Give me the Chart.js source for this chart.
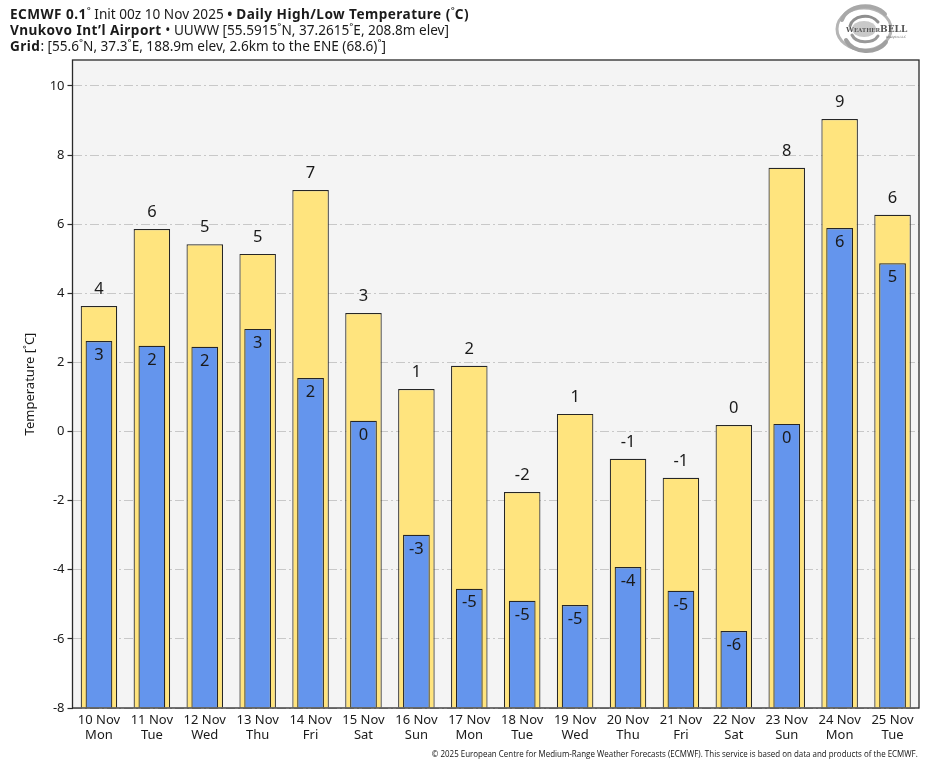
<!DOCTYPE html>
<html>
<head>
<meta charset="utf-8">
<script src="https://cdn.jsdelivr.net/npm/chart.js@4.4.1/dist/chart.umd.min.js"></script>
<style>
  html, body { margin: 0; padding: 0; background: #fff; }
  body { width: 935px; height: 768px; position: relative; overflow: hidden; font-family: "Noto Sans", "Open Sans", sans-serif; color: #1a1a1a; }
  #chart { position: absolute; left: 0; top: 0; }
  #hdr { position: absolute; left: 10px; top: 6px; font-size: 13.6px; line-height: 16px; white-space: nowrap; }
  #hdr b { font-weight: 700; letter-spacing: 0.45px; }
  #foot { position: absolute; top: 748px; right: 17px; font-family: "Open Sans", "Noto Sans", sans-serif; font-size: 9px; line-height: 12px; white-space: nowrap; transform-origin: right center; color: #111; }
  #logo { position: absolute; left: 830px; top: 2px; width: 100px; height: 56px; }
</style>
</head>
<body>
<canvas id="chart" width="935" height="768"></canvas>
<div id="hdr">
  <div><b>ECMWF 0.1</b>˚ Init 00z 10 Nov 2025 <b>•</b> <b>Daily High/Low Temperature (</b>˚<b>C)</b></div>
  <div><b>Vnukovo Int’l Airport</b> • UUWW [55.5915˚N, 37.2615˚E, 208.8m elev]</div>
  <div><b>Grid</b>: [55.6˚N, 37.3˚E, 188.9m elev, 2.6km to the ENE (68.6)˚]</div>
</div>
<svg id="logo" viewBox="0 0 100 56">
  <g fill="none" stroke="#9a9a9a" stroke-linecap="round">
    <ellipse cx="34" cy="27" rx="27" ry="21" stroke-width="3" stroke="#b5b5b5"/>
    <path d="M12 18 A24 18 0 0 1 55 12" stroke-width="4" stroke="#a8a8a8"/>
    <path d="M16 38 A22 17 0 0 0 56 40" stroke-width="4" stroke="#a0a0a0"/>
    <path d="M20 24 A15 11 0 0 1 48 20" stroke-width="3" stroke="#8f8f8f"/>
    <path d="M22 33 A14 10 0 0 0 48 34" stroke-width="3" stroke="#999"/>
  </g>
  <ellipse cx="34" cy="27" rx="12" ry="8" fill="#c9c9c9"/>
  <text x="16" y="30" font-family="DejaVu Serif, serif" font-size="7" font-weight="bold" fill="#555">W<tspan font-size="5.5">EATHER</tspan><tspan font-size="9">BELL</tspan></text>
  <text x="56" y="36" font-family="DejaVu Sans, sans-serif" font-size="3" fill="#666">Analytics LLC</text>
</svg>
<div id="foot">© 2025 European Centre for Medium-Range Weather Forecasts (ECMWF). This service is based on data and products of the ECMWF.</div>
<script>
// ---- data ----
const dates = ["10 Nov","11 Nov","12 Nov","13 Nov","14 Nov","15 Nov","16 Nov","17 Nov","18 Nov","19 Nov","20 Nov","21 Nov","22 Nov","23 Nov","24 Nov","25 Nov"];
const weekdays = ["Mon","Tue","Wed","Thu","Fri","Sat","Sun","Mon","Tue","Wed","Thu","Fri","Sat","Sun","Mon","Tue"];
const highTemps = [3.63, 5.86, 5.42, 5.14, 6.99, 3.43, 1.23, 1.90, -1.75, 0.51, -0.79, -1.34, 0.19, 7.63, 9.04, 6.27];
const lowTemps  = [2.62, 2.48, 2.45, 2.97, 1.55, 0.31, -2.99, -4.55, -4.90, -5.02, -3.92, -4.61, -5.77, 0.22, 5.89, 4.87];
const yMin = -8;
const yMax = 10.75;
const yStep = 2;

// fit footer width
(function(){
  const f = document.getElementById('foot');
  const w = f.getBoundingClientRect().width;
  f.style.transform = 'scaleX(' + (486 / w) + ')';
})();

const labels = dates.map((d, i) => [d, weekdays[i]]);

const bgPlugin = {
  id: 'bg',
  beforeDraw(chart) {
    const a = chart.chartArea, ctx = chart.ctx;
    ctx.save();
    ctx.fillStyle = '#f4f4f4';
    ctx.fillRect(a.left, a.top, a.right - a.left, a.bottom - a.top);
    ctx.restore();
  },
  afterDraw(chart) {
    const a = chart.chartArea, ctx = chart.ctx;
    ctx.save();
    ctx.strokeStyle = '#2a2a2a';
    ctx.lineWidth = 1.3;
    ctx.strokeRect(a.left, a.top, a.right - a.left, a.bottom - a.top);
    ctx.restore();
  }
};

const valueLabels = {
  id: 'valueLabels',
  afterDatasetsDraw(chart) {
    const ctx = chart.ctx;
    ctx.save();
    ctx.font = '16.5px "Noto Sans", sans-serif';
    ctx.fillStyle = '#1a1a1a';
    ctx.textAlign = 'center';
    ctx.textBaseline = 'middle';
    chart.data.datasets.forEach((ds, di) => {
      const meta = chart.getDatasetMeta(di);
      meta.data.forEach((el, i) => {
        const v = Math.round(ds.data[i]);
        const txt = String(v === 0 ? 0 : v);
        if (ds.kind === 'high') ctx.fillText(txt, el.x, el.y - 17);
        else ctx.fillText(txt, el.x, el.y + 14);
      });
    });
    ctx.restore();
  }
};

new Chart(document.getElementById('chart'), {
  type: 'bar',
  data: {
    labels: labels,
    datasets: [
      {
        kind: 'low',
        data: lowTemps,
        base: yMin,
        backgroundColor: '#6495ed',
        borderColor: '#262626',
        borderWidth: 1.2,
        borderSkipped: 'bottom',
        barPercentage: 0.505,
        categoryPercentage: 1,
        grouped: false,
        order: 0
      },
      {
        kind: 'high',
        data: highTemps,
        base: yMin,
        backgroundColor: '#ffe47e',
        borderColor: '#262626',
        borderWidth: 1.2,
        borderSkipped: 'bottom',
        barPercentage: 0.69,
        categoryPercentage: 1,
        grouped: false,
        order: 1
      }
    ]
  },
  options: {
    responsive: false,
    animation: false,
    devicePixelRatio: 1,
    layout: { padding: { top: 60, right: 16, bottom: 0, left: 0 } },
    plugins: { legend: { display: false }, tooltip: { enabled: false }, title: { display: false } },
    scales: {
      x: {
        grid: { display: false, drawTicks: false },
        border: { display: false },
        ticks: { color: '#1a1a1a', font: { size: 13, family: '"Noto Sans", sans-serif', lineHeight: 1.2 }, padding: 4, maxRotation: 0, autoSkip: false },
        afterFit(scale) { scale.height = 60; }
      },
      y: {
        min: yMin,
        max: yMax,
        ticks: { stepSize: yStep, color: '#1a1a1a', font: { size: 13, family: '"Noto Sans", sans-serif' }, padding: 3 },
        afterBuildTicks(scale) { scale.ticks = scale.ticks.filter(t => Math.abs(t.value / yStep - Math.round(t.value / yStep)) < 1e-6); },
        grid: { color: '#c8c8c8', lineWidth: 1, tickColor: '#2a2a2a', tickLength: 5, tickWidth: 1.2, tickBorderDash: [] },
        border: { display: false, dash: [9, 3, 2, 3] },
        title: { display: true, text: 'Temperature [˚C]', color: '#1a1a1a', font: { size: 13, family: '"Noto Sans", sans-serif' }, padding: { top: 22, bottom: 0 } },
        afterFit(scale) { scale.width = 72.5; }
      }
    }
  },
  plugins: [bgPlugin, valueLabels]
});
</script>
</body>
</html>
